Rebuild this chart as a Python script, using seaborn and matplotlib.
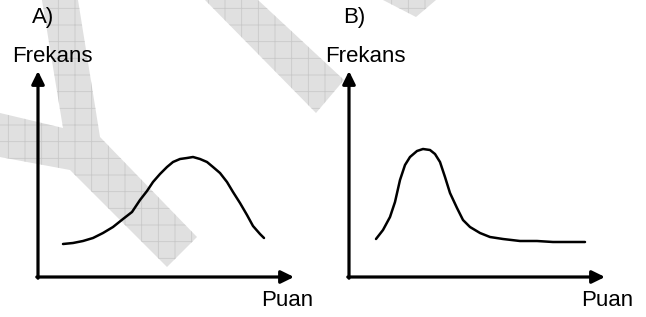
import matplotlib
matplotlib.use("Agg")
import matplotlib.pyplot as plt
import seaborn as sns
from matplotlib.patches import Polygon

sns.set_theme(style="white")
plt.rcParams['font.family'] = ['Liberation Sans', 'DejaVu Sans']
plt.rcParams['hatch.linewidth'] = 0.6

# Panel labels / axis titles
panel_labels = ["A)", "B)"]
y_label = "Frekans"
x_label = "Puan"

# Curve A (Puan, Frekans)
puan_a = [25, 35, 45, 55, 65, 75, 85, 94, 102, 109, 115, 122, 129, 135, 142, 149, 155,
          162, 169, 175, 182, 189, 195, 202, 209, 215, 222, 226]
frek_a = [33, 34, 36, 39, 44, 50, 58, 65, 77, 86, 95, 103, 110, 115, 118, 119, 120,
          118, 115, 110, 104, 95, 85, 74, 62, 51, 43, 39]

# Curve B (Puan, Frekans)
puan_b = [27, 34, 41, 46, 51, 56, 61, 68, 74, 81, 86, 91, 96, 101, 108, 114, 121, 131,
          141, 154, 171, 188, 204, 221, 236]
frek_b = [38, 47, 60, 75, 97, 112, 120, 126, 128, 127, 123, 115, 100, 84, 69, 57, 50, 44,
          40, 38, 36, 36, 35, 35, 35]

W, H = 646, 317
fig = plt.figure(figsize=(W / 100, H / 100), dpi=100)

# Background watermark layer (pixel coordinates)
bg = fig.add_axes([0, 0, 1, 1])
bg.set_xlim(0, W)
bg.set_ylim(H, 0)
bg.axis("off")
wm_shapes = [
    [(42, 0), (78, 0), (100, 137), (197, 237), (167, 267), (70, 170), (0, 157), (0, 113), (63, 128)],
    [(205, 0), (258, 0), (344, 80), (316, 113)],
    [(383, 0), (436, 0), (416, 17)],
]
for pts in wm_shapes:
    bg.add_patch(Polygon(pts, closed=True, facecolor="#e0e0e0", edgecolor="#c9c9c9",
                         hatch="+", linewidth=0, zorder=0))

panels = [
    dict(left=0, origin=(38, 277), px=puan_a, fy=frek_a, label=panel_labels[0],
         lab_x=-6, fr_x=-26, pu_x=223),
    dict(left=323, origin=(349, 277), px=puan_b, fy=frek_b, label=panel_labels[1],
         lab_x=-6, fr_x=-24, pu_x=232),
]

for p in panels:
    ox, oy = p["origin"]
    ax = fig.add_axes([p["left"] / W, 0, 323 / W, 1])
    ax.patch.set_alpha(0)
    x0 = p["left"] - ox
    ax.set_xlim(x0, x0 + 323)
    ax.set_ylim(oy - H, oy)
    ax.axis("off")

    sns.lineplot(x=p["px"], y=p["fy"], ax=ax, color="black", linewidth=1.8,
                 solid_joinstyle="round", solid_capstyle="round")

    arrow_kw = dict(arrowstyle="-|>,head_length=0.55,head_width=0.27", color="black",
                    lw=2.3, shrinkA=0, shrinkB=0, mutation_scale=14)
    ax.annotate("", xy=(0, 206), xytext=(0, -1.2), arrowprops=arrow_kw)
    ax.annotate("", xy=(256, 0), xytext=(-1.2, 0), arrowprops=arrow_kw)

    ax.text(p["lab_x"], 260, p["label"], fontsize=16, ha="left", va="center", color="black")
    ax.text(p["fr_x"], 220, y_label, fontsize=16, ha="left", va="center", color="black")
    ax.text(p["pu_x"], -24, x_label, fontsize=16, ha="left", va="center", color="black")

fig.savefig("out.png", dpi=100)
